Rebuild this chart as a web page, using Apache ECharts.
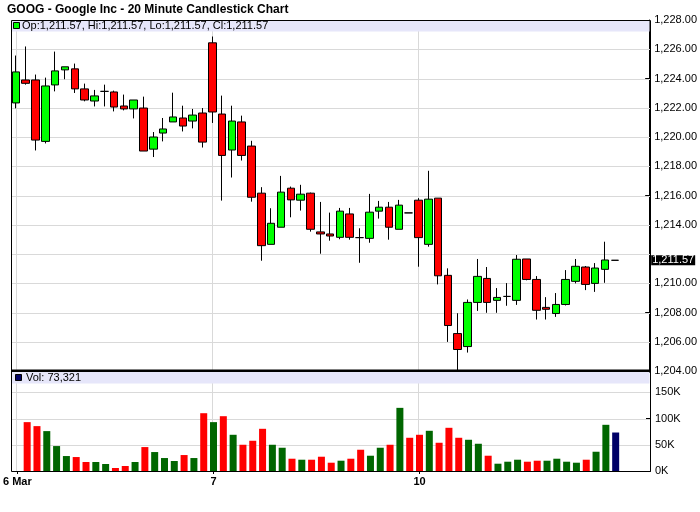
<!DOCTYPE html>
<html><head><meta charset="utf-8">
<script src="https://cdn.jsdelivr.net/npm/echarts@6/dist/echarts.min.js"></script>
<style>html,body{margin:0;padding:0;background:#fff}#c{width:700px;height:512px}</style>
</head><body><div id="c"></div>
<script>
// ---- data ----
const titleText = 'GOOG - Google Inc - 20 Minute Candlestick Chart';
const openP = [1222.33,1223.90,1223.90,1219.70,1223.56,1224.59,1224.66,1223.29,1222.46,1223.12,
  1223.08,1222.12,1221.92,1221.98,1219.17,1220.27,1221.03,1221.30,1221.09,1221.64,
  1226.44,1221.57,1219.11,1221.03,1219.38,1216.16,1212.66,1213.83,1216.50,1215.68,
  1216.16,1213.51,1213.37,1213.14,1214.74,1213.12,1213.07,1214.93,1215.20,1213.69,
  1214.81,1215.68,1212.66,1215.82,1210.54,1206.56,1205.67,1208.69,1210.33,1208.83,
  1209.10,1208.83,1211.66,1210.26,1208.35,1207.93,1208.55,1210.13,1211.11,1209.99,
  1210.95,1211.57];
const highP = [1225.57,1226.19,1224.27,1224.06,1225.84,1224.80,1225.02,1223.65,1223.22,1223.58,
  1223.17,1222.90,1222.53,1222.76,1220.34,1221.30,1223.03,1222.14,1221.92,1221.98,
  1226.87,1222.83,1222.14,1221.46,1219.74,1216.57,1215.13,1217.34,1216.61,1216.73,
  1216.20,1215.56,1214.83,1215.15,1215.15,1213.76,1216.11,1215.63,1215.56,1215.70,
  1214.81,1215.82,1217.69,1215.82,1211.02,1207.95,1208.89,1211.66,1211.11,1209.67,
  1210.01,1211.93,1211.66,1210.49,1209.05,1209.33,1210.90,1211.66,1211.18,1211.38,
  1212.84,1211.57];
const lowP = [1221.96,1223.58,1219.08,1219.56,1223.12,1223.95,1223.01,1222.44,1222.09,1222.09,
  1221.75,1221.82,1221.27,1219.04,1218.63,1219.70,1221.03,1220.38,1220.59,1219.28,
  1220.96,1215.65,1217.23,1218.39,1215.58,1211.54,1212.66,1213.83,1214.51,1214.97,
  1213.53,1212.02,1212.91,1213.01,1212.98,1211.40,1212.77,1214.42,1212.98,1213.69,
  1214.81,1211.13,1212.50,1209.92,1205.99,1204.05,1205.26,1208.11,1207.98,1207.98,
  1208.46,1208.52,1210.20,1207.52,1207.52,1207.70,1208.48,1209.99,1209.53,1209.41,
  1210.03,1211.57];
const closeP = [1224.45,1223.67,1219.79,1223.49,1224.52,1224.80,1223.29,1222.53,1222.81,1223.12,
  1222.05,1221.92,1222.53,1219.04,1220.00,1220.55,1221.37,1220.75,1221.50,1219.65,
  1221.71,1218.74,1221.09,1218.74,1215.88,1212.57,1214.10,1216.23,1215.70,1216.09,
  1213.69,1213.37,1213.23,1214.93,1213.14,1213.12,1214.86,1215.20,1213.83,1215.34,
  1214.81,1213.12,1215.75,1210.51,1207.11,1205.47,1208.69,1210.47,1208.69,1209.03,
  1209.10,1211.64,1210.26,1208.15,1208.22,1208.55,1210.26,1211.16,1209.92,1211.04,
  1211.59,1211.57];
const volume = [null,93100,85500,76000,47500,28500,26600,17100,17100,13300,
  5700,9500,17100,45600,36100,24700,19000,30400,24700,110100,
  93100,104400,69000,50000,57600,80400,50000,44300,23400,21500,
  21500,27200,15800,19600,23400,40500,29100,44300,50000,120300,
  63300,69000,76600,53800,82300,63300,59500,51900,29100,13900,
  17700,21500,17700,19600,19600,23400,17700,15800,21500,36700,
  88000,73321];
const dayTickIndex = [0, 20, 41];
const dayTickLabels = ['6 Mar', '7', '10'];
const priceTicks = [1204,1206,1208,1210,1212,1214,1216,1218,1220,1222,1224,1226,1228];
const volumeTicks = [0, 50000, 100000, 150000];
const volMax = 188600;
const emptySlots = 3;

// ---- helpers ----
function commas(s) { return s.replace(/\B(?=(\d{3})+(?!\d))/g, ','); }
function fmtPrice(v) { const p = v.toFixed(2).split('.'); return commas(p[0]) + '.' + p[1]; }
const last = closeP.length - 1;
const categories = Array.from({length: closeP.length + emptySlots}, (_, i) => String(i));
const candleData = openP.map((o, i) => [o, closeP[i], lowP[i], highP[i]]);
const GREEN = '#00ff00', RED = '#ff0000', VGREEN = '#006600', VRED = '#ff0000', NAVY = '#000066';
const GRID_C = '#d9d9d9';
const volData = volume.map((v, i) => {
  let c = VGREEN;
  if (i === last) c = NAVY;
  else if (i > 0 && closeP[i] < closeP[i - 1]) c = VRED;
  return { value: v, itemStyle: { color: c } };
});
const FONT = 'Liberation Sans, Arial, sans-serif';
const isDayTick = (idx) => dayTickIndex.indexOf(idx) >= 0;
const legendText = 'Op:' + fmtPrice(openP[last]) + ', Hi:' + fmtPrice(highP[last]) +
  ', Lo:' + fmtPrice(lowP[last]) + ', Cl:' + fmtPrice(closeP[last]);
const volText = 'Vol: ' + commas(String(volume[last]));
const priceStep = priceTicks[1] - priceTicks[0];
const volStep = volumeTicks[1] - volumeTicks[0];

const L = 11, R = 50, T0 = 20, H0 = 351, T1 = 372, H1 = 99;
const W = 700 - L - R;

const chart = echarts.init(document.getElementById('c'), null, { renderer: 'canvas' });
chart.setOption({
  animation: false,
  backgroundColor: '#fff',
  title: { text: titleText, left: 7, top: 4, padding: 0, textStyle: { fontFamily: FONT, fontSize: 12, fontWeight: 'bold', color: '#000' } },
  grid: [
    { left: L, right: R, top: T0, height: H0, show: false },
    { left: L, right: R, top: T1, height: H1, show: false }
  ],
  xAxis: [
    { type: 'category', gridIndex: 0, data: categories, boundaryGap: true,
      axisLine: { show: false }, axisTick: { show: false }, axisLabel: { show: false }, splitLine: { show: false } },
    { type: 'category', gridIndex: 1, data: categories, boundaryGap: true,
      axisLine: { lineStyle: { color: '#000', width: 1 } },
      axisTick: { show: true, alignWithLabel: true, interval: (i) => isDayTick(i), length: 3, lineStyle: { color: '#000' } },
      axisLabel: { interval: (i) => isDayTick(i), margin: 5, fontFamily: FONT, fontSize: 11, fontWeight: 'bold', color: '#000',
        formatter: (v) => { const k = dayTickIndex.indexOf(Number(v)); return k >= 0 ? dayTickLabels[k] : ''; } },
      splitLine: { show: false } }
  ],
  yAxis: [
    { type: 'value', gridIndex: 0, position: 'right', min: priceTicks[0], max: priceTicks[priceTicks.length - 1], interval: priceStep,
      axisLine: { show: true, lineStyle: { color: '#000' } },
      axisTick: { show: true, inside: true, length: 4, lineStyle: { color: '#000' } },
      axisLabel: { margin: 5, fontFamily: FONT, fontSize: 11, color: '#000',
        formatter: (v) => Math.abs(v - closeP[last]) < 1 ? '' : fmtPrice(v) },
      splitLine: { show: false } },
    { type: 'value', gridIndex: 1, position: 'right', min: 0, max: volMax, interval: volStep,
      axisLine: { show: true, lineStyle: { color: '#000' } },
      axisTick: { show: true, inside: true, length: 4, lineStyle: { color: '#000' } },
      axisLabel: { margin: 5, fontFamily: FONT, fontSize: 11, color: '#000',
        formatter: (v) => (volumeTicks.indexOf(v) >= 0) ? (v / 1000) + 'K' : '' },
      splitLine: { show: false } }
  ],
  series: [
    { type: 'candlestick', xAxisIndex: 0, yAxisIndex: 0, data: candleData, barWidth: 8, z: 3,
      itemStyle: { color: GREEN, color0: RED, borderColor: '#000', borderColor0: '#000', borderColorDoji: '#000', borderWidth: 1 } },
    { type: 'line', xAxisIndex: 0, yAxisIndex: 0, data: [], z: 20, silent: true,
      markLine: {
        z: 20, silent: true, symbol: 'none', animation: false,
        data: [{ yAxis: closeP[last], lineStyle: { color: 'rgba(0,0,0,0)', width: 1 },
          label: { show: true, position: 'end', distance: 2, formatter: fmtPrice(closeP[last]), backgroundColor: '#000', color: '#fff',
            fontFamily: FONT, fontSize: 11, padding: [0, 1, 0, 1], lineHeight: 10 } }]
      } },
    { type: 'bar', xAxisIndex: 1, yAxisIndex: 1, data: volData, barWidth: 7, z: 3 }
  ]
});

// grid lines positioned through the library's own axis scales
const g = [];
priceTicks.slice(1, -1).forEach(v => {
  const y = Math.round(chart.convertToPixel({ yAxisIndex: 0 }, v));
  g.push({ type: 'rect', z: 1, silent: true, shape: { x: L, y: y, width: W, height: 1 }, style: { fill: GRID_C } });
});
volumeTicks.slice(1).forEach(v => {
  const y = Math.round(chart.convertToPixel({ yAxisIndex: 1 }, v));
  g.push({ type: 'rect', z: 1, silent: true, shape: { x: L, y: y, width: W, height: 1 }, style: { fill: GRID_C } });
});
dayTickIndex.forEach(i => {
  const x = Math.round(chart.convertToPixel({ xAxisIndex: 0 }, String(i)));
  g.push({ type: 'rect', z: 1, silent: true, shape: { x: x, y: T0, width: 1, height: T1 + H1 - T0 }, style: { fill: GRID_C } });
});
g.push(
  { type: 'rect', z: 10, shape: { x: L + 0.5, y: T0 + 0.5, width: W - 1, height: 11 }, style: { fill: '#e6e6fa' } },
  { type: 'rect', z: 11, shape: { x: 13.5, y: 22.5, width: 6, height: 6 }, style: { fill: GREEN, stroke: '#000', lineWidth: 1 } },
  { type: 'text', z: 11, x: 22, y: 26, style: { text: legendText, fontFamily: FONT, fontSize: 11, fill: '#000', verticalAlign: 'middle' } },
  { type: 'rect', z: 10, shape: { x: L + 0.5, y: T1, width: W - 1, height: 11.5 }, style: { fill: '#e6e6fa' } },
  { type: 'rect', z: 11, shape: { x: 15.5, y: 374.5, width: 6, height: 6 }, style: { fill: NAVY, stroke: '#000', lineWidth: 1 } },
  { type: 'text', z: 11, x: 26, y: 378, style: { text: volText, fontFamily: FONT, fontSize: 11, fill: '#000', verticalAlign: 'middle' } },
  { type: 'rect', z: 12, shape: { x: L + 0.5, y: T0 + 0.5, width: W, height: T1 + H1 - T0 }, style: { fill: 'none', stroke: '#000', lineWidth: 1 } },
  { type: 'rect', z: 12, shape: { x: L, y: 369.5, width: W + 1, height: 2.5 }, style: { fill: '#000' } }
);
chart.setOption({ graphic: g });
</script></body></html>
